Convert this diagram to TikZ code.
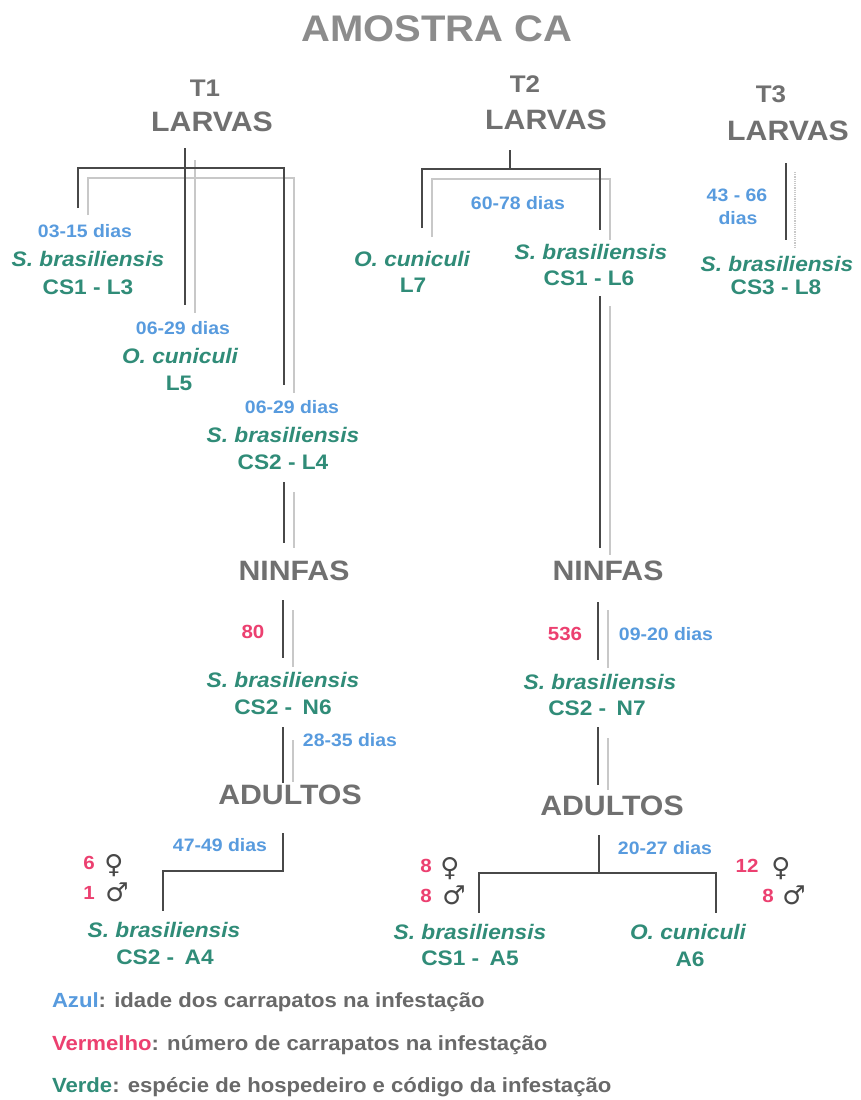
\documentclass[tikz,border=0pt]{standalone}
\usepackage{fontspec}
\setmainfont{Liberation Sans}[FakeStretch=1.08]
\newfontfamily\symfont{DejaVu Sans}
\definecolor{blueC}{RGB}{88,155,222}
\definecolor{redC}{RGB}{236,64,112}
\definecolor{greenC}{RGB}{48,140,120}
\definecolor{lineC}{RGB}{72,72,72}
\definecolor{ghostC}{RGB}{200,200,200}
\definecolor{headC}{RGB}{112,112,112}
\definecolor{titleC}{RGB}{140,140,140}
\definecolor{legC}{RGB}{105,105,105}
\begin{document}
\begin{tikzpicture}[x=1pt,y=-1pt,
  every node/.style={inner sep=0pt, outer sep=0pt},
  titleS/.style={font=\bfseries\fontsize{37}{40}\selectfont, text=titleC, text height=26pt, text depth=0pt},
  headS/.style={font=\bfseries\fontsize{28}{30}\selectfont, text=headC, text height=20pt, text depth=0pt},
  tS/.style={font=\bfseries\fontsize{24}{26}\selectfont, text=headC, text height=17pt, text depth=0pt},
  diasS/.style={font=\bfseries\fontsize{18}{20}\selectfont, text=blueC, text height=13pt, text depth=0pt},
  spS/.style={font=\bfseries\itshape\fontsize{21}{23}\selectfont, text=greenC, text height=15pt, text depth=0pt},
  codeS/.style={font=\bfseries\fontsize{21}{23}\selectfont, text=greenC, text height=15pt, text depth=0pt},
  numS/.style={font=\bfseries\fontsize{19}{21}\selectfont, text=redC, text height=13.5pt, text depth=0pt},
  symS/.style={font=\symfont\fontsize{26}{28}\selectfont, text=lineC, text height=16pt, text depth=0pt},
  legS/.style={font=\bfseries\fontsize{20.5}{23}\selectfont, text=legC, anchor=base west},
  ln/.style={draw=lineC, line width=1.7pt},
  gh/.style={draw=ghostC, line width=1.2pt}
]
\useasboundingbox[fill=white] (0,0) rectangle (860,1100);

% ---------- titles ----------
\node[titleS] (title) at (437,28) {AMOSTRA CA};
\node[tS] (t1) at (205,88) {T1};
\node[headS] (lar1) at (212,121) {LARVAS};
\node[tS] (t2) at (525,84) {T2};
\node[headS] (lar2) at (546,119) {LARVAS};
\node[tS] (t3) at (771,94) {T3};
\node[headS] (lar3) at (788,130) {LARVAS};

% ---------- T1 larvae tree ----------
\coordinate (a1) at (185,148);
\coordinate (a1m) at (185,168);
\coordinate (a1b) at (185,305);
\coordinate (a1L) at (78,168);
\coordinate (a1Lb) at (78,208);
\coordinate (a1R) at (284,168);
\coordinate (a1Rb) at (284,385);
\coordinate (g1) at (195,160);
\coordinate (g1b) at (195,313);
\coordinate (g1L) at (88,178);
\coordinate (g1Lb) at (88,215);
\coordinate (g1R) at (294,178);
\coordinate (g1Rb) at (294,393);
\draw[gh] (g1) -- (g1b);
\draw[gh] (g1Lb) -- (g1L) -- (g1R) -- (g1Rb);
\draw[ln] (a1) -- (a1b);
\draw[ln] (a1Lb) -- (a1L) -- (a1R) -- (a1Rb);

\node[diasS] (d1) at (85,231) {03-15 dias};
\node[spS] (s1) at (88,259) {S. brasiliensis};
\node[codeS] (c1) at (88,287) {CS1 - L3};
\node[diasS] (d2) at (183,328) {06-29 dias};
\node[spS] (s2) at (180,356) {O. cuniculi};
\node[codeS] (c2) at (179,383) {L5};
\node[diasS] (d3) at (292,407) {06-29 dias};
\node[spS] (s3) at (283,435) {S. brasiliensis};
\node[codeS] (c3) at (283,462) {CS2 - L4};

\coordinate (b1) at (284,482); \coordinate (b1b) at (284,543);
\coordinate (gb1) at (294,492); \coordinate (gb1b) at (294,548);
\draw[gh] (gb1) -- (gb1b);
\draw[ln] (b1) -- (b1b);
\node[headS] (nin1) at (294,570) {NINFAS};

\coordinate (e1) at (283,600); \coordinate (e1b) at (283,658);
\coordinate (ge1) at (293,610); \coordinate (ge1b) at (293,667);
\draw[gh] (ge1) -- (ge1b);
\draw[ln] (e1) -- (e1b);
\node[numS] (n80) at (253,632) {80};
\node[spS] (s4) at (283,680) {S. brasiliensis};
\node[codeS] (c4) at (283,707) {CS2 -\enspace N6};

\coordinate (f1) at (283,727); \coordinate (f1b) at (283,783);
\coordinate (gf1) at (293,740); \coordinate (gf1b) at (293,782);
\draw[gh] (gf1) -- (gf1b);
\draw[ln] (f1) -- (f1b);
\node[diasS] (d4) at (350,740) {28-35 dias};
\node[headS] (ad1) at (290,794) {ADULTOS};

\coordinate (h1) at (283,833); \coordinate (h1m) at (283,871);
\coordinate (h1L) at (163,871); \coordinate (h1Lb) at (163,911);
\draw[ln] (h1) -- (h1m) -- (h1L) -- (h1Lb);
\node[diasS] (d5) at (220,845) {47-49 dias};
\node[numS] (m6) at (89,863) {6};
\node[symS] (f6) at (114,865) {♀};
\node[numS] (m1) at (89,893) {1};
\node[symS] (f1s) at (117,893) {♂};
\node[spS] (s5) at (164,930) {S. brasiliensis};
\node[codeS] (c5) at (165,957) {CS2 -\enspace A4};

% ---------- T2 larvae tree ----------
\coordinate (a2) at (510,150);
\coordinate (a2m) at (510,169);
\coordinate (a2L) at (422,169);
\coordinate (a2Lb) at (422,228);
\coordinate (a2R) at (600,169);
\coordinate (a2Rb) at (600,230);
\coordinate (g2L) at (432,179);
\coordinate (g2Lb) at (432,237);
\coordinate (g2R) at (610,179);
\coordinate (g2Rb) at (610,240);
\draw[gh] (g2Lb) -- (g2L) -- (g2R) -- (g2Rb);
\draw[ln] (a2) -- (a2m);
\draw[ln] (a2Lb) -- (a2L) -- (a2R) -- (a2Rb);

\node[diasS] (d6) at (518,203) {60-78 dias};
\node[spS] (s6) at (412,259) {O. cuniculi};
\node[codeS] (c6) at (413,285) {L7};
\node[spS] (s7) at (591,252) {S. brasiliensis};
\node[codeS] (c7) at (589,278) {CS1 - L6};

\coordinate (b2) at (600,296); \coordinate (b2b) at (600,548);
\coordinate (gb2) at (610,306); \coordinate (gb2b) at (610,555);
\draw[gh] (gb2) -- (gb2b);
\draw[ln] (b2) -- (b2b);
\node[headS] (nin2) at (608,570) {NINFAS};

\coordinate (e2) at (598,602); \coordinate (e2b) at (598,660);
\coordinate (ge2) at (608,610); \coordinate (ge2b) at (608,668);
\draw[gh] (ge2) -- (ge2b);
\draw[ln] (e2) -- (e2b);
\node[numS] (n536) at (565,634) {536};
\node[diasS] (d7) at (666,634) {09-20 dias};
\node[spS] (s8) at (600,682) {S. brasiliensis};
\node[codeS] (c8) at (597,708) {CS2 -\enspace N7};

\coordinate (f2) at (598,727); \coordinate (f2b) at (598,785);
\coordinate (gf2) at (608,738); \coordinate (gf2b) at (608,790);
\draw[gh] (gf2) -- (gf2b);
\draw[ln] (f2) -- (f2b);
\node[headS] (ad2) at (612,805) {ADULTOS};

\coordinate (h2) at (599,835); \coordinate (h2m) at (599,873);
\coordinate (h2L) at (479,873); \coordinate (h2Lb) at (479,913);
\coordinate (h2R) at (716,873); \coordinate (h2Rb) at (716,913);
\draw[ln] (h2) -- (h2m);
\draw[ln] (h2Lb) -- (h2L) -- (h2R) -- (h2Rb);
\node[diasS] (d8) at (665,848) {20-27 dias};
\node[numS] (m8a) at (426,866) {8};
\node[symS] (f8a) at (450,868) {♀};
\node[numS] (m8b) at (426,896) {8};
\node[symS] (f8b) at (454,896) {♂};
\node[numS] (m12) at (747,866) {12};
\node[symS] (f12) at (781,868) {♀};
\node[numS] (m8c) at (768,896) {8};
\node[symS] (f8c) at (794,896) {♂};
\node[spS] (s9) at (470,932) {S. brasiliensis};
\node[codeS] (c9) at (470,958) {CS1 -\enspace A5};
\node[spS] (s10) at (688,932) {O. cuniculi};
\node[codeS] (c10) at (690,959) {A6};

% ---------- T3 ----------
\coordinate (a3) at (786,163); \coordinate (a3b) at (786,240);
\coordinate (g3) at (795,172); \coordinate (g3b) at (795,248);
\draw[gh, densely dotted] (g3) -- (g3b);
\draw[ln] (a3) -- (a3b);
\node[diasS] (d9) at (737,195) {43 - 66};
\node[diasS] (d9b) at (738,218) {dias};
\node[spS] (s11) at (777,264) {S. brasiliensis};
\node[codeS] (c11) at (776,287) {CS3 - L8};

% ---------- legend ----------
\node[legS] (leg1) at (52,1007) {\textcolor{blueC}{Azul}: idade dos carrapatos na infestação};
\node[legS] (leg2) at (52,1050) {\textcolor{redC}{Vermelho}: número de carrapatos na infestação};
\node[legS] (leg3) at (52,1092) {\textcolor{greenC}{Verde}: espécie de hospedeiro e código da infestação};
\end{tikzpicture}
\end{document}
